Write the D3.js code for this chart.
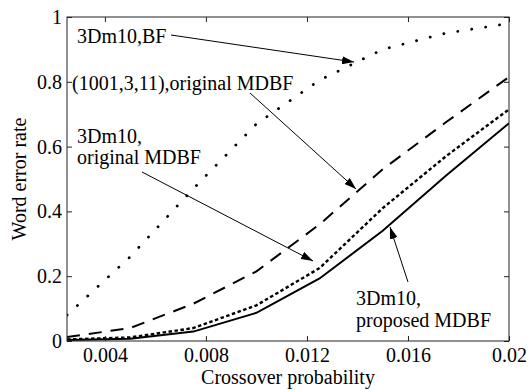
<!DOCTYPE html>
<html><head><meta charset="utf-8">
<script src="https://cdn.jsdelivr.net/npm/d3@7"></script>
<style>
body{margin:0;background:#fff;}
svg{display:block;}
svg text{font-family:"Liberation Serif","Times New Roman",serif !important;fill:#000;}
</style></head>
<body>
<svg id="chart" width="528" height="391"></svg>
<script>
const crossover = [0.0025,0.005,0.0075,0.01,0.0125,0.015,0.0175,0.02];
const bf3Dm10 = [0.08,0.26,0.47,0.67,0.805,0.90,0.95,0.98];
const orig1001 = [0.012,0.04,0.115,0.215,0.36,0.53,0.675,0.815];
const orig3Dm10 = [0.005,0.011,0.04,0.11,0.225,0.41,0.57,0.715];
const prop3Dm10 = [0.003,0.007,0.029,0.087,0.193,0.34,0.51,0.672];
const xTicks = [0.004,0.008,0.012,0.016,0.02];
const xTickLabels = ["0.004","0.008","0.012","0.016","0.02"];
const yTicks = [0,0.2,0.4,0.6,0.8,1];
const yTickLabels = ["0","0.2","0.4","0.6","0.8","1"];

const L=67,R=509,T=17,B=341;
const svg=d3.select("#chart");
const x=d3.scaleLinear().domain([0.0025,0.02]).range([L,R]);
const y=d3.scaleLinear().domain([0,1]).range([B,T]);

svg.append("defs").append("marker").attr("id","ah")
  .attr("viewBox","0 0 12 8").attr("refX",12).attr("refY",4)
  .attr("markerWidth",12).attr("markerHeight",8).attr("markerUnits","userSpaceOnUse")
  .attr("orient","auto")
  .append("path").attr("d","M0,0L12,4L0,8Z").attr("fill","#000");

svg.append("clipPath").attr("id","clip").append("rect")
  .attr("x",L).attr("y",T).attr("width",R-L).attr("height",B-T);

const line=d3.line().x((d,i)=>x(crossover[i])).y(d=>y(d));
const g=svg.append("g").attr("clip-path","url(#clip)");
const series=[
  {v:bf3Dm10,dash:"0.1,14",w:2.8,cap:"round"},
  {v:orig1001,dash:"13,9",w:2,cap:"butt"},
  {v:orig3Dm10,dash:"3.5,2.5",w:2.4,cap:"butt"},
  {v:prop3Dm10,dash:null,w:2,cap:"butt"}
];
series.forEach(s=>{
  g.append("path").attr("d",line(s.v)).attr("fill","none").attr("stroke","#000")
   .attr("stroke-width",s.w).attr("stroke-linecap",s.cap)
   .attr("stroke-dasharray",s.dash);
});

// frame
svg.append("rect").attr("x",L).attr("y",T).attr("width",R-L).attr("height",B-T)
  .attr("fill","none").attr("stroke","#222").attr("stroke-width",1);

// axes with inward ticks
const xAxB=d3.axisBottom(x).tickValues(xTicks).tickSize(-5).tickFormat((d,i)=>xTickLabels[i]).tickPadding(7);
const xg=svg.append("g").attr("transform",`translate(0,${B})`).call(xAxB);
const xAxT=d3.axisTop(x).tickValues(xTicks).tickSize(-5).tickFormat("");
const xgt=svg.append("g").attr("transform",`translate(0,${T})`).call(xAxT);
const yAxL=d3.axisLeft(y).tickValues(yTicks).tickSize(-5).tickFormat((d,i)=>yTickLabels[i]).tickPadding(5);
const yg=svg.append("g").attr("transform",`translate(${L},0)`).call(yAxL);
const yAxR=d3.axisRight(y).tickValues(yTicks).tickSize(-5).tickFormat("");
const ygr=svg.append("g").attr("transform",`translate(${R},0)`).call(yAxR);
[xg,xgt,yg,ygr].forEach(a=>{
  a.attr("font-family","Liberation Serif").attr("font-size",20);
  a.select(".domain").remove();
  a.selectAll(".tick line").attr("stroke","#222");
  a.selectAll("text").attr("fill","#000");
});

svg.append("text").attr("x",(L+R)/2).attr("y",384).attr("text-anchor","middle")
  .attr("font-size",20).text("Crossover probability");
svg.append("text").attr("transform",`translate(26,${(T+B)/2}) rotate(-90)`)
  .attr("text-anchor","middle").attr("font-size",20).text("Word error rate");

// annotations
function ann(lines,tx,ty,lh,x1,y1,x2,y2){
  const t=svg.append("text").attr("x",tx).attr("y",ty).attr("font-size",20);
  lines.forEach((s,i)=>t.append("tspan").attr("x",tx).attr("dy",i?lh:0).text(s));
  svg.append("line").attr("x1",x1).attr("y1",y1).attr("x2",x2).attr("y2",y2)
    .attr("stroke","#000").attr("stroke-width",1).attr("marker-end","url(#ah)");
}
ann(["3Dm10,BF"],77,43,0,171,35,354,62);
ann(["(1001,3,11),original MDBF"],72,90,0,250,93,356,189);
ann(["3Dm10,","original MDBF"],77,143,21,142,172,313,261);
ann(["3Dm10,","proposed MDBF"],356,305,22,408,282,390,227);
</script>
</body></html>
